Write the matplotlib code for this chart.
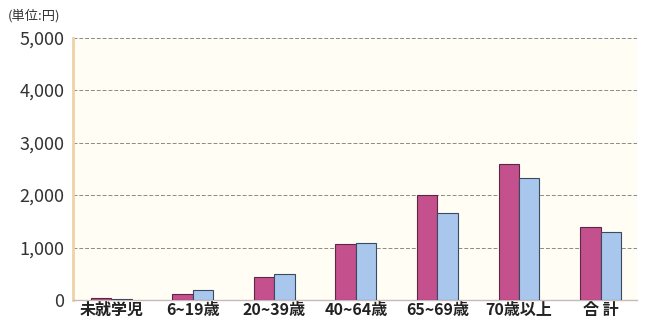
import matplotlib
matplotlib.use("Agg")
import matplotlib.pyplot as plt
import numpy as np

plt.rcParams['font.family'] = ['Noto Sans CJK JP', 'DejaVu Sans']

categories = ["未就学児", "6~19歳", "20~39歳", "40~64歳", "65~69歳", "70歳以上", "合 計"]
series_a = [40, 110, 450, 1070, 2000, 2600, 1400]   # pink
series_b = [30, 200, 500, 1090, 1660, 2320, 1300]   # blue
yticks = [0, 1000, 2000, 3000, 4000, 5000]
ytick_labels = ["0", "1,000", "2,000", "3,000", "4,000", "5,000"]

fig = plt.figure(figsize=(6.45, 3.21), dpi=100)
ax = fig.add_axes([0.113, 0.065, 0.875, 0.818])
ax.set_facecolor("#fffdf4")

x = np.arange(len(categories))
w = 0.25
ax.bar(x - w / 2, series_a, w, color="#c4508e", edgecolor="#5a2a40", linewidth=0.8, zorder=3)
ax.bar(x + w / 2, series_b, w, color="#a9c6ec", edgecolor="#3a4a60", linewidth=0.8, zorder=3)

ax.set_xlim(-0.47, 6.45)
ax.set_ylim(0, 5000)
ax.set_yticks(yticks)
ax.set_yticklabels(ytick_labels, fontsize=13, color="#333333")
ax.set_xticks(x)
ax.set_xticklabels(categories, fontsize=11.5, fontweight="bold", color="#222222")
ax.tick_params(axis="both", length=0, pad=1)
ax.tick_params(axis="y", pad=6)

ax.yaxis.grid(True, linestyle=(0, (4, 2)), color="#8a8a8a", linewidth=0.7, zorder=0)
for s in ["top", "right"]:
    ax.spines[s].set_visible(False)
ax.spines["left"].set_color("#f0d2a8")
ax.spines["left"].set_linewidth(2)
ax.spines["bottom"].set_color("#c8b8b8")
ax.spines["bottom"].set_linewidth(1)

fig.text(0.012, 0.952, "(単位:円)", fontsize=9.5, color="#333333", va="center")

fig.savefig("out.png", dpi=100)
